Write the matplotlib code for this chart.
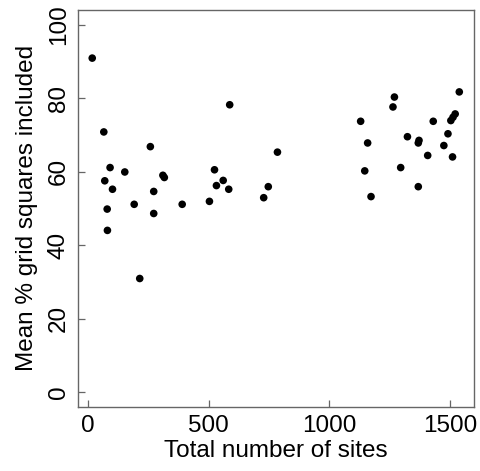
import matplotlib
matplotlib.use("Agg")
import matplotlib.pyplot as plt

plt.rcParams["font.family"] = ["Liberation Sans", "DejaVu Sans"]

# total number of sites vs mean % grid squares included
sites = [17, 65, 258, 587, 785, 91, 152, 69, 101, 310, 316, 272, 524, 560, 532,
         583, 747, 728, 79, 191, 272, 390, 503, 80, 214,
         1539, 1270, 1264, 1130, 1431, 1504, 1513, 1522, 1492, 1324, 1372, 1369,
         1159, 1475, 1408, 1511, 1147, 1296, 1369, 1173]
pct = [90.9, 70.8, 66.8, 78.2, 65.3, 61.1, 59.9, 57.5, 55.2, 59.0, 58.4, 54.6,
       60.5, 57.6, 56.2, 55.2, 55.9, 52.9, 49.8, 51.1, 48.6, 51.1, 51.9, 44.0, 30.9,
       81.7, 80.3, 77.6, 73.7, 73.7, 73.9, 74.8, 75.7, 70.3, 69.5, 68.5, 67.8,
       67.8, 67.1, 64.4, 64.0, 60.2, 61.1, 55.9, 53.2]

xticks = [0, 500, 1000, 1500]
yticks = [0, 20, 40, 60, 80, 100]

fig = plt.figure(figsize=(4.8, 4.71), dpi=100)
ax = fig.add_axes([0.163, 0.1365, 0.8245, 0.8423])
ax.scatter(sites, pct, s=30, c="black", edgecolors="none", zorder=3)

ax.set_xlim(-41, 1600)
ax.set_ylim(-4, 104)
ax.set_xticks(xticks)
ax.set_yticks(yticks)
ax.set_yticklabels([str(v) for v in yticks], rotation=90, va="center")

for s in ax.spines.values():
    s.set_color("#666666")
    s.set_linewidth(1.0)
ax.tick_params(direction="in", length=5, width=0.9, color="#666666",
               labelsize=17.5, pad=6)
ax.set_xlabel("Total number of sites", fontsize=17.5, labelpad=2)
ax.set_ylabel("Mean % grid squares included", fontsize=17.5, labelpad=7)

fig.savefig("out.png", dpi=100)
